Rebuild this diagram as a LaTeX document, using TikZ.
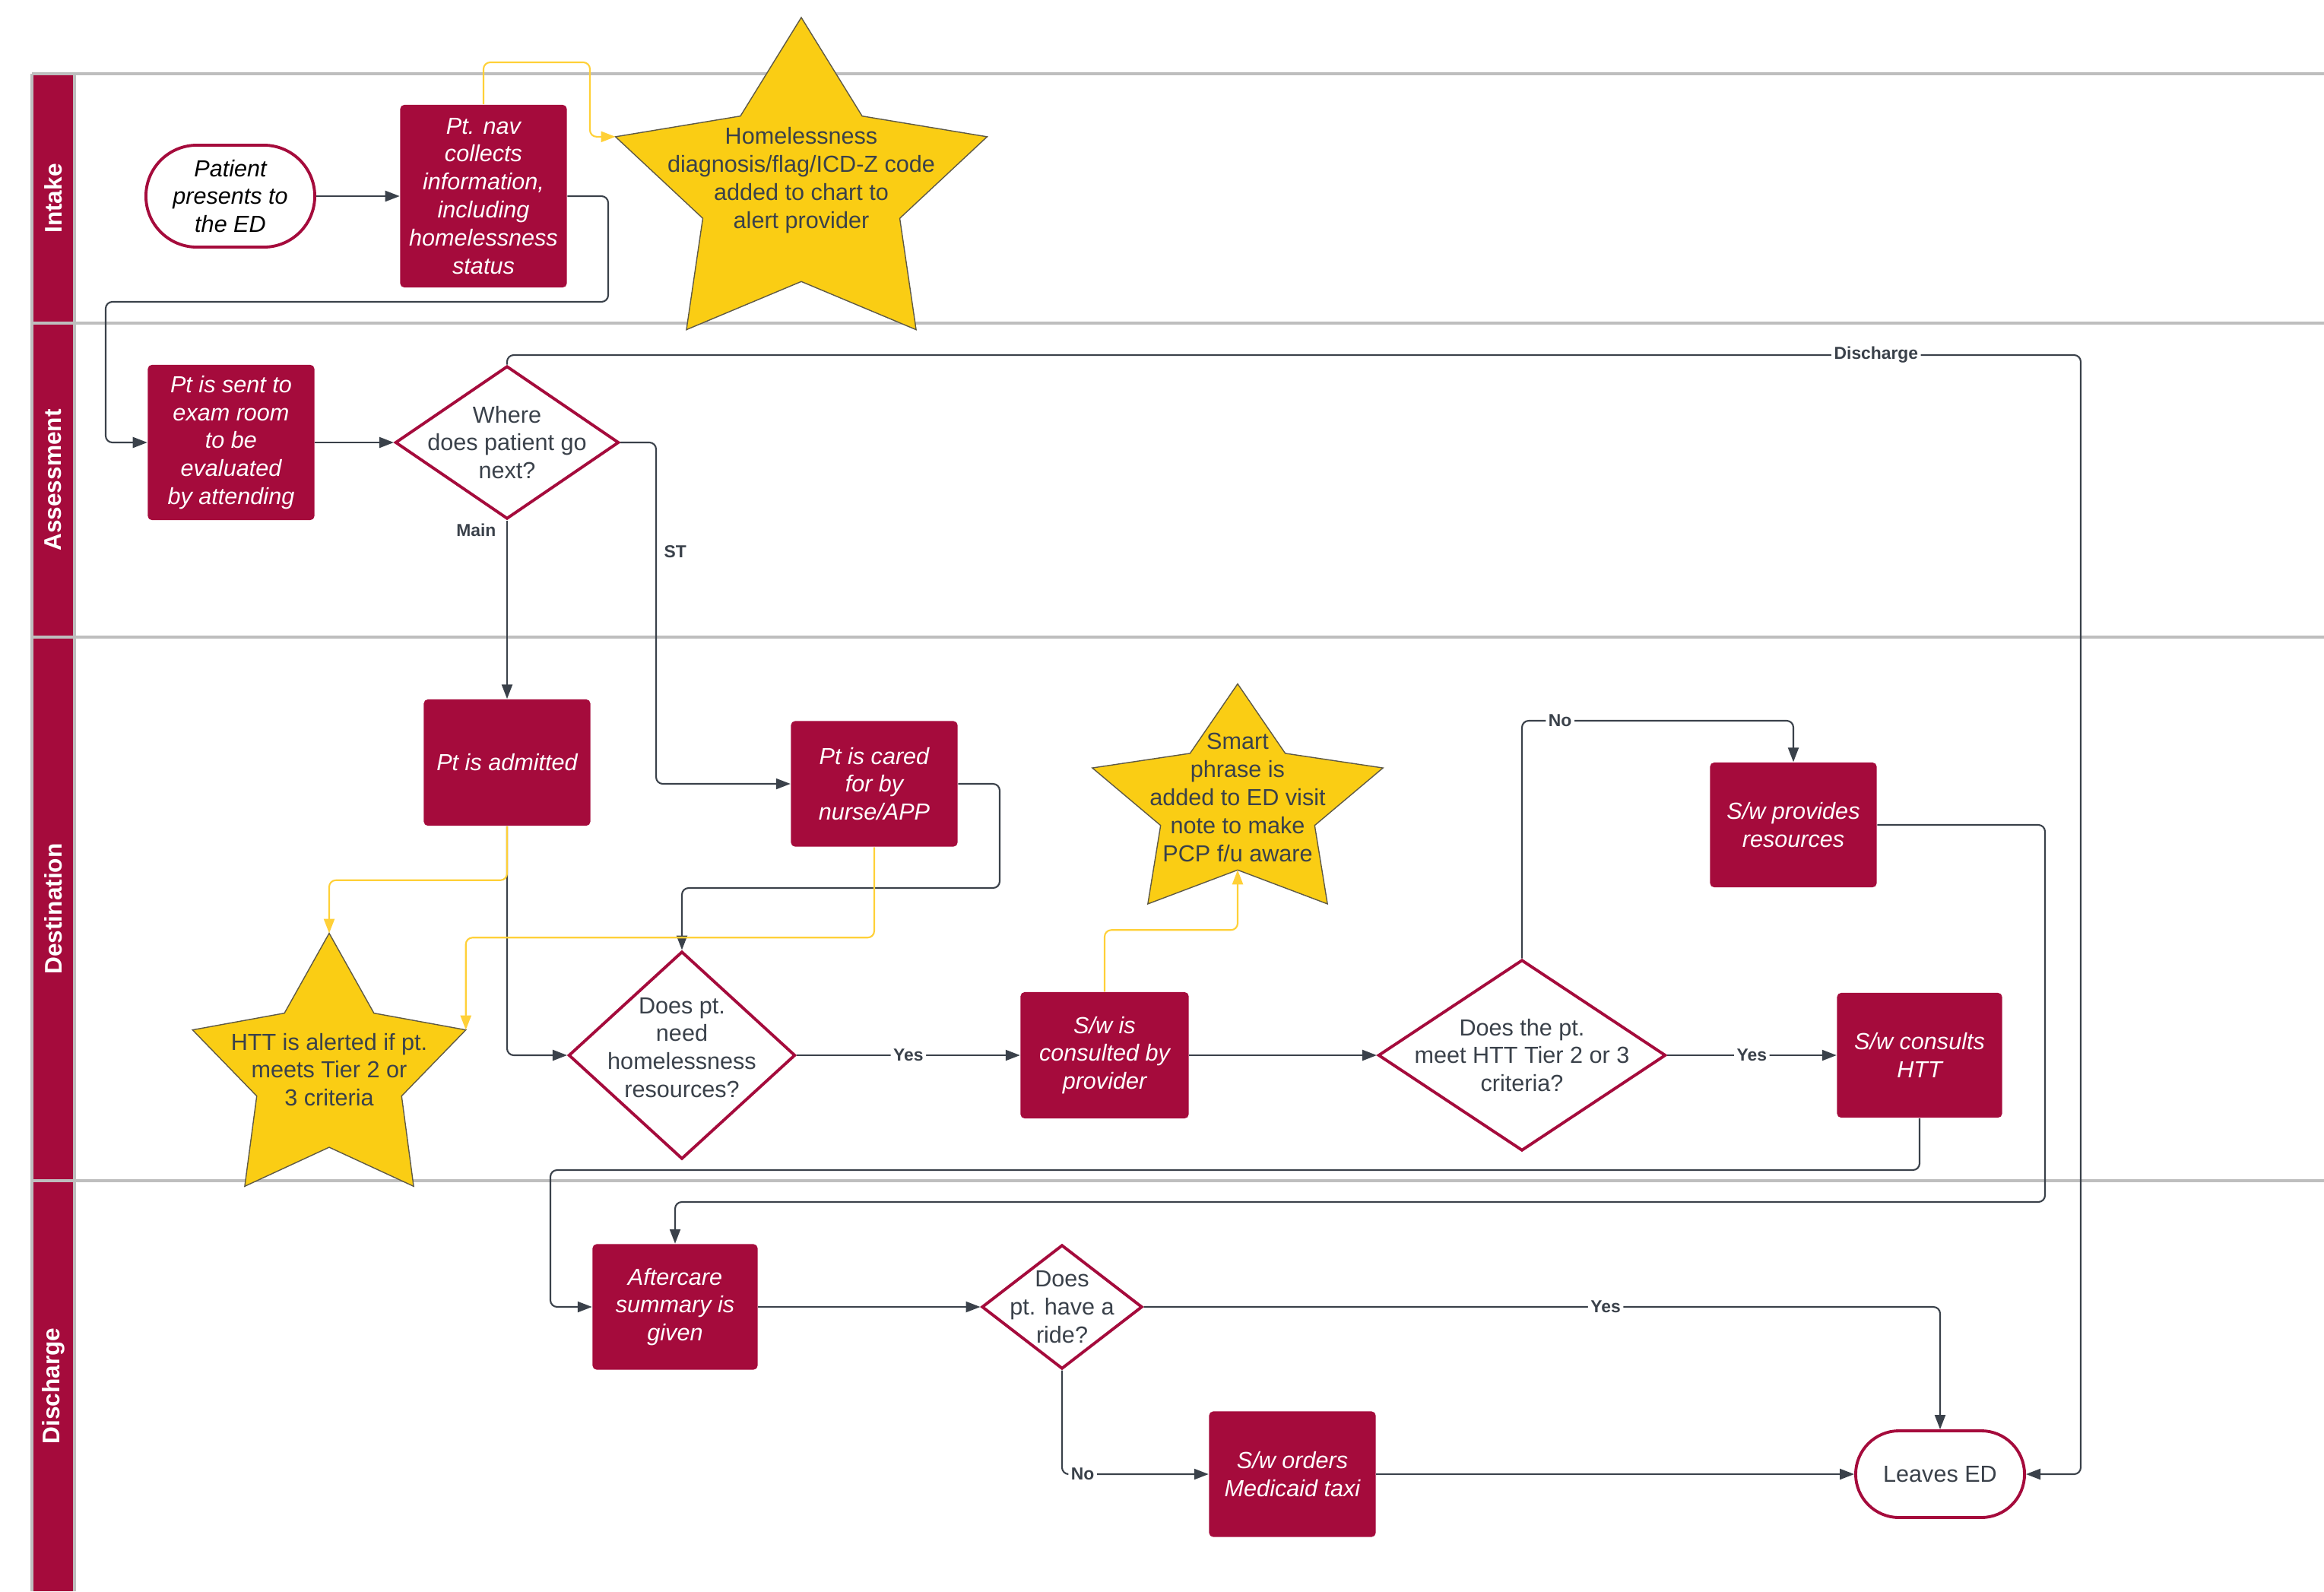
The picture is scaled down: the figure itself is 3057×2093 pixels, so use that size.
\documentclass[tikz,border=0pt]{standalone}
\usepackage{fontspec}
\setmainfont{Liberation Sans}
\usetikzlibrary{shapes.geometric,arrows.meta}

\definecolor{crimson}{RGB}{165,11,60}
\definecolor{starfill}{RGB}{250,205,20}
\definecolor{starline}{RGB}{95,90,70}
\definecolor{yellowline}{RGB}{255,208,55}
\definecolor{linegray}{RGB}{58,65,74}
\definecolor{textgray}{RGB}{58,65,74}
\definecolor{lanegray}{RGB}{190,190,190}

\begin{document}
\begin{tikzpicture}[
		x=0.01cm, y=-0.01cm,
		every node/.style={font=\fontsize{8.7}{10.5}\selectfont, align=center},
		proc/.style={rectangle, rounded corners=1.5pt, fill=crimson, text=white, font=\fontsize{8.7}{10.5}\selectfont\itshape, minimum width=2.19cm, inner sep=1pt},
		term/.style={rectangle, draw=crimson, line width=1.1pt, fill=white, minimum width=2.22cm, inner sep=1pt},
		decision/.style={diamond, draw=crimson, line width=1.1pt, fill=white, inner sep=0pt},
		dtext/.style={text=textgray},
		startext/.style={text=textgray},
		flow/.style={draw=linegray, line width=0.6pt, rounded corners=2.5pt, -{Triangle[length=5.4pt,width=4pt]}},
		yflow/.style={flow, draw=yellowline},
		lab/.style={font=\bfseries\fontsize{6.5}{7}\selectfont, text=textgray, fill=white, inner sep=1pt},
		lanelabel/.style={font=\bfseries\fontsize{9}{10}\selectfont, text=white, rotate=90},
		laneline/.style={draw=lanegray, line width=1pt},
		pics/hstar/.style 2 args={code={
			\pgfmathsetmacro\irx{0.53*#1}
			\pgfmathsetmacro\iry{0.53*#2}
			\draw[fill=starfill, draw=starline, line width=0.4pt]
				(270:#1 and #2) \foreach \k [evaluate=\k as \ang using {270+36*\k},
					evaluate=\k as \rx using {#1*(1-0.47*mod(\k,2))},
					evaluate=\k as \ry using {#2*(1-0.47*mod(\k,2))}] in {1,...,9}{ -- (\ang:{\rx} and {\ry})} -- cycle;
			\coordinate (-top) at (270:#1 and #2);
			\coordinate (-left) at (198:#1 and #2);
			\coordinate (-right) at (342:#1 and #2);
			\coordinate (-in) at (90:{\irx} and {\iry});
		}}
		]
		\useasboundingbox (0,0) rectangle (3057,2093);

		% lanes
		\foreach \ltop/\lbot/\lname in {97/425/Intake,425/838/Assessment,838/1553/Destination,1553/2093/Discharge}{
			\fill[crimson] (42,\ltop) rectangle (98,\lbot);
			\draw[laneline] (42,\ltop) -- (3057,\ltop);
			\node[lanelabel] (lane\lname) at (70,{(\ltop+\lbot)/2}) {\lname};
		}
		\draw[laneline] (42,97) -- (42,2093) (98,97) -- (98,2093);

		% intake
		\node[term, rounded corners=0.67cm, minimum height=1.34cm, font=\fontsize{8.7}{10.5}\selectfont\itshape, text=black] (patient) at (303,258) {Patient\\presents to\\the ED};
		\node[proc, minimum height=2.4cm] (ptnav) at (636,258) {Pt. nav\\collects\\information,\\including\\homelessness\\status};
		\pic (flagstar) at (1054,250) {hstar={257}{227}};
		\node[startext] (flagtext) at (1054,237) {Homelessness\\diagnosis/flag/ICD-Z code\\added to chart to\\alert provider};

		% assessment
		\node[proc, minimum height=2.04cm] (examroom) at (304,582) {Pt is sent to\\exam room\\to be\\evaluated\\by attending};
		\node[decision, minimum width=2.94cm, minimum height=2.01cm,
			label={[dtext, name=where-t]center:Where\\does patient go\\next?}] (where) at (667,582) {};

		% destination
		\node[proc, minimum height=1.66cm] (admitted) at (667,1003) {Pt is admitted};
		\node[proc, minimum height=1.65cm] (cared) at (1150,1031) {Pt is cared\\for by\\nurse/APP};
		\pic (alertstar) at (433,1411.5) {hstar={189}{184}};
		\node[startext] (alerttext) at (433,1407) {HTT is alerted if pt.\\meets Tier 2 or\\3 criteria};
		\node[decision, minimum width=2.98cm, minimum height=2.73cm,
			label={[dtext, name=need-t, yshift=0.1cm]center:Does pt.\\need\\homelessness\\resources?}] (need) at (897,1388) {};
		\node[proc, minimum width=2.21cm, minimum height=1.66cm] (swconsult) at (1453,1388) {S/w is\\consulted by\\provider};
		\pic (notestar) at (1628,1059.5) {hstar={201}{160}};
		\node[startext] (notetext) at (1628,1049) {Smart\\phrase is\\added to ED visit\\note to make\\PCP f/u aware};
		\node[decision, minimum width=3.78cm, minimum height=2.51cm,
			label={[dtext, name=meets-t]center:Does the pt.\\meet HTT Tier 2 or 3\\criteria?}] (meets) at (2002,1388) {};
		\node[proc, minimum height=1.64cm] (provides) at (2359,1085) {S/w provides\\resources};
		\node[proc, minimum width=2.17cm, minimum height=1.64cm] (consults) at (2525,1388) {S/w consults\\HTT};

		% discharge
		\node[proc, minimum width=2.17cm, minimum height=1.65cm] (aftercare) at (888,1719) {Aftercare\\summary is\\given};
		\node[decision, minimum width=2.11cm, minimum height=1.63cm,
			label={[dtext, name=ride-t]center:Does\\pt. have a\\ride?}] (ride) at (1397,1719) {};
		\node[proc, minimum height=1.65cm] (taxi) at (1700,1939) {S/w orders\\Medicaid taxi};
		\node[term, rounded corners=0.57cm, minimum height=1.14cm, text=textgray] (leaves) at (2552,1939) {Leaves ED};

		% connectors
		\draw[flow] (patient) -- (ptnav);
		\draw[flow] (ptnav.east) -| (800,397) -| (139,582) -- (examroom.west);
		\draw[yflow] (ptnav.north) |- (776,82) |- (flagstar-left);
		\draw[flow] (examroom) -- (where);
		\draw[flow] (where.north) |- (2737,467) node[lab, pos=0.935] {Discharge} |- (leaves.east);
		\draw[flow] (where.south) -- (admitted.north) node[lab, pos=0, anchor=north east, xshift=-0.1cm, fill=none] {Main};
		\draw[flow] (where.east) -- ++(47,0) |- (cared.west) node[lab, pos=0.16, right, xshift=0.06cm] {ST};
		\draw[flow] (admitted.south) |- (need.west);
		\draw[yflow] (admitted.south) -- ++(0,71) -| (alertstar-top);
		\draw[flow] (cared.east) -| (1315,1168) -| (need.north);
		\draw[yflow] (cared.south) -- ++(0,119) -| (alertstar-right);
		\draw[flow] (need) -- node[lab] {Yes} (swconsult);
		\draw[yflow] (swconsult.north) -- ++(0,-81) -| (notestar-in);
		\draw[flow] (swconsult) -- (meets);
		\draw[flow] (meets.north) |- (2359,948) node[lab, pos=0.57] {No} -- (provides.north);
		\draw[flow] (meets) -- node[lab] {Yes} (consults);
		\draw[flow] (consults.south) |- (724,1539) |- (aftercare.west);
		\draw[flow] (provides.east) -| (2690,1581) -| (aftercare.north);
		\draw[flow] (aftercare) -- (ride);
		\draw[flow] (ride.east) -| (leaves.north) node[lab, pos=0.29] {Yes};
		\draw[flow] (ride.south) |- (taxi.west) node[lab, pos=0.57] {No};
		\draw[flow] (taxi) -- (leaves);
	\end{tikzpicture}
\end{document}
